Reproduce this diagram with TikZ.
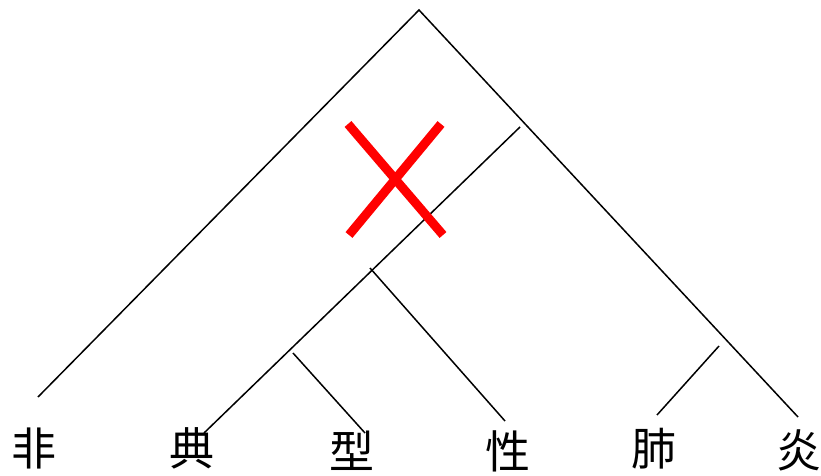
\documentclass[tikz,border=0pt]{standalone}
\usepackage{fontspec}
\newfontfamily\cjk{Noto Sans CJK SC}
\tikzset{
  leaf/.style={font=\cjk\fontsize{45}{45}\selectfont, inner sep=0pt, anchor=center},
  branch/.style={draw=black, line width=1.5pt},
  cross/.style={draw=red, line width=9pt}
}
\begin{document}
\begin{tikzpicture}[x=1pt,y=-1pt]
\useasboundingbox (0,0) rectangle (821,476);
% leaves
\node[leaf] (w1) at (34,448) {非};
\node[leaf] (w2) at (192,448) {典};
\node[leaf] (w3) at (352,451) {型};
\node[leaf] (w4) at (508,451) {性};
\node[leaf] (w5) at (654,449) {肺};
\node[leaf] (w6) at (799,450) {炎};
% branch points
\coordinate (root) at (419,10);
\coordinate (rL) at (38,397);
\coordinate (rR) at (798,417);
\coordinate (n1) at (520,127);
\coordinate (n1e) at (204,433);
\coordinate (n2) at (370,268);
\coordinate (n2e) at (505,421);
\coordinate (n3) at (293,353);
\coordinate (n3e) at (365,433);
\coordinate (n4) at (719,346);
\coordinate (n4e) at (657,415);
\draw[branch] (rL) -- (root) -- (rR);
\draw[branch] (n1) -- (n1e);
\draw[branch] (n2) -- (n2e);
\draw[branch] (n3) -- (n3e);
\draw[branch] (n4) -- (n4e);
% red cross
\coordinate (xa) at (348,124);
\coordinate (xb) at (443,235);
\coordinate (xc) at (441,124);
\coordinate (xd) at (349,235);
\draw[cross] (xa) -- (xb);
\draw[cross] (xc) -- (xd);
\end{tikzpicture}
\end{document}
